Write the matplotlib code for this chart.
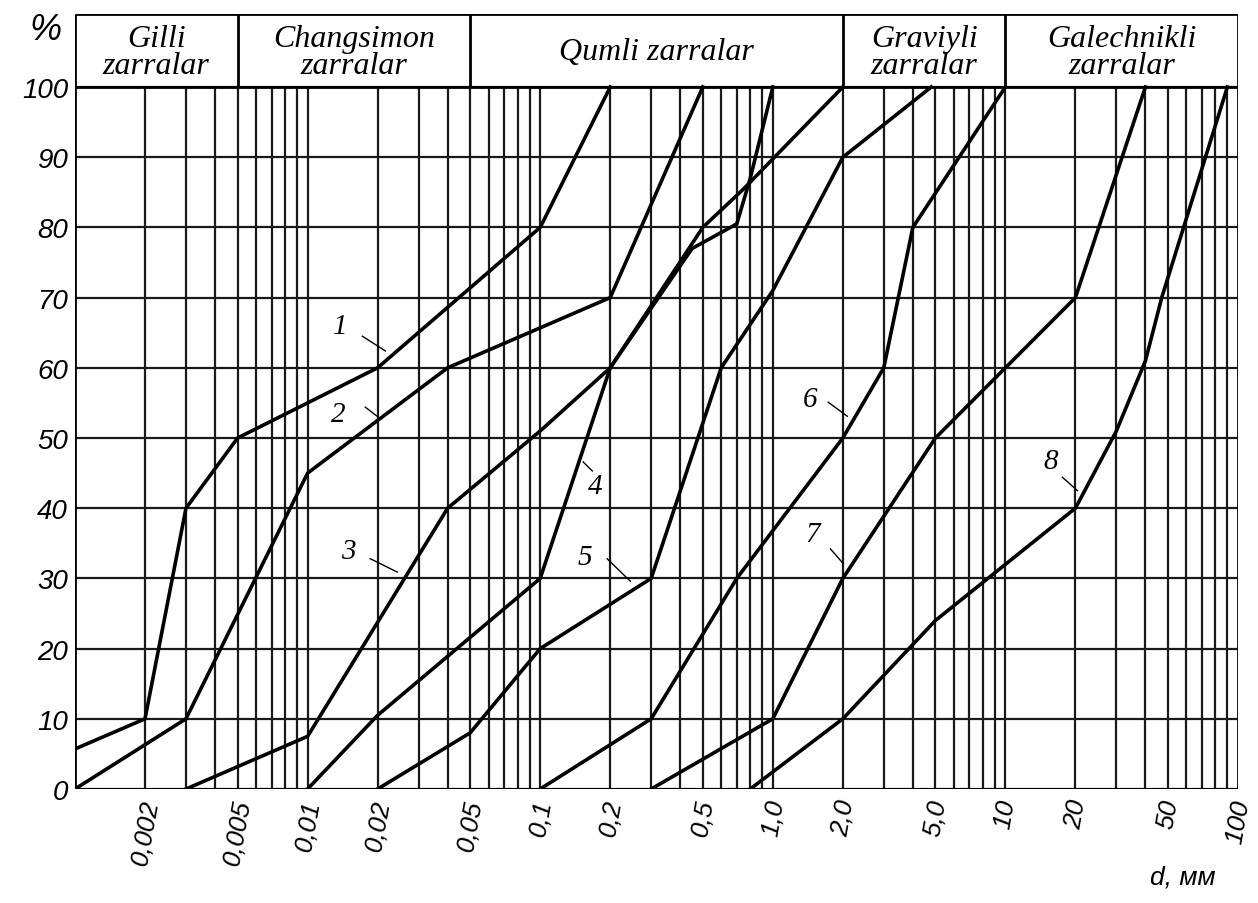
import numpy as np
import matplotlib
matplotlib.use("Agg")
import matplotlib.pyplot as plt

# grain size curves (d in mm, percent finer)
c1_x = [0.001, 0.002, 0.003, 0.005, 0.02, 0.1, 0.2]
c1_y = [5.7, 10, 40, 50, 60, 80, 100]
c2_x = [0.001, 0.003, 0.01, 0.04, 0.2, 0.5]
c2_y = [0, 10, 45, 60, 70, 100]
c3_x = [0.003, 0.01, 0.04, 0.1, 0.2, 0.5, 0.75, 2.0]
c3_y = [0, 7.5, 40, 51, 60, 80, 85.5, 100]
c4_x = [0.01, 0.02, 0.1, 0.2, 0.45, 0.7, 0.8, 1.0]
c4_y = [0, 10.5, 30, 60, 77, 80.5, 87, 100]
c5_x = [0.02, 0.05, 0.1, 0.3, 0.6, 1.0, 2.0, 4.8]
c5_y = [0, 8, 20, 30, 60, 71, 90, 100]
c6_x = [0.1, 0.3, 0.7, 2.0, 3.0, 4.0, 10]
c6_y = [0, 10, 30, 50, 60, 80, 100]
c7_x = [0.3, 1.0, 2.0, 5.0, 20, 40]
c7_y = [0, 10, 30, 50, 70, 100]
c8_x = [0.8, 2.0, 5.0, 10, 20, 30, 40, 47, 90]
c8_y = [0, 10, 24, 32, 40, 51, 61, 70, 100]
curves = [(c1_x, c1_y), (c2_x, c2_y), (c3_x, c3_y), (c4_x, c4_y),
          (c5_x, c5_y), (c6_x, c6_y), (c7_x, c7_y), (c8_x, c8_y)]

# curve numbers: (label, text pos, leader start, leader end)
curve_labels = [
    ("1", (0.0138, 66.0), (0.0172, 64.5), (0.0216, 62.4)),
    ("2", (0.0135, 53.4), (0.0177, 54.4), (0.0199, 53.1)),
    ("3", (0.0149, 33.9), (0.0186, 32.8), (0.0243, 30.9)),
    ("4", (0.172, 43.2), (0.1675, 45.3), (0.153, 46.6)),
    ("5", (0.156, 33.0), (0.194, 32.8), (0.244, 29.6)),
    ("6", (1.45, 55.6), (1.73, 55.1), (2.09, 53.1)),
    ("7", (1.48, 36.3), (1.77, 34.2), (2.01, 32.1)),
    ("8", (15.6, 46.7), (17.6, 44.4), (20.4, 42.5)),
]

tick_vals = [0.002, 0.005, 0.01, 0.02, 0.05, 0.1, 0.2, 0.5, 1.0, 2.0, 5.0, 10, 20, 50, 100]
tick_text = ["0,002", "0,005", "0,01", "0,02", "0,05", "0,1", "0,2", "0,5",
             "1,0", "2,0", "5,0", "10", "20", "50", "100"]
y_vals = list(range(0, 101, 10))

zones = ["Gilli\nzarralar", "Changsimon\nzarralar", "Qumli zarralar",
         "Graviyli\nzarralar", "Galechnikli\nzarralar"]
zone_edges = [0.001, 0.005, 0.05, 2.0, 10, 100]

W, H = 1258, 904
fig = plt.figure(figsize=(W / 100, H / 100), dpi=100)
ax = fig.add_axes([75 / W, 1 - 790 / H, (1238 - 75) / W, (790 - 15) / H])
ax.set_xscale("log")
ax.set_xlim(0.001, 100)
top = 110.4
ax.set_ylim(0, top)
for s in ax.spines.values():
    s.set_visible(False)

grid_kw = dict(color="#1a1a1a", lw=1.6, zorder=1)
for e in range(-3, 2):
    for k in range(1, 10):
        v = k * 10.0 ** e
        if 0.001 < v < 100:
            ax.vlines(v, 0, 100, **grid_kw)
for yv in y_vals:
    ax.hlines(yv, 0.001, 100, **grid_kw)

# frame and header boxes
frame_kw = dict(color="black", lw=2.0, zorder=3)
ax.vlines([0.001, 100], 0, top, **frame_kw)
ax.hlines([0, 100, top], 0.001, 100, **frame_kw)
ax.vlines(zone_edges[1:-1], 100, top, **frame_kw)
for i, name in enumerate(zones):
    xc = np.sqrt(zone_edges[i] * zone_edges[i + 1])
    ax.text(xc, 105.0, name, ha="center", va="center", fontsize=23,
            family="Liberation Serif", style="italic", linespacing=0.9)

for cx, cy in curves:
    ax.plot(cx, cy, color="black", lw=2.6, zorder=4, solid_joinstyle="miter")

for lab, tp, ls, le in curve_labels:
    ax.text(tp[0], tp[1], lab, ha="center", va="center", fontsize=21,
            family="Liberation Serif", style="italic", zorder=5)
    ax.plot([ls[0], le[0]], [ls[1], le[1]], color="black", lw=1.0, zorder=5)

ax.set_xticks(tick_vals)
ax.set_xticklabels(tick_text, rotation=80, ha="center", va="top",
                   fontsize=19, style="italic", family="Liberation Sans")
ax.xaxis.set_minor_locator(matplotlib.ticker.NullLocator())
ax.set_yticks(y_vals)
ax.set_yticklabels([str(v) for v in y_vals], fontsize=20, style="italic",
                   family="Liberation Sans")
ax.tick_params(axis="both", length=0)
ax.tick_params(axis="x", pad=6)
ax.tick_params(axis="y", pad=5)

fig.text(45 / W, 1 - 30 / H, "%", ha="center", va="center", fontsize=26,
         style="italic", family="Liberation Sans")
fig.text(1183 / W, 1 - 878 / H, "d, мм", ha="center", va="center", fontsize=19,
         style="italic", family="Liberation Sans")

fig.savefig("out.png", dpi=100, facecolor="white")
